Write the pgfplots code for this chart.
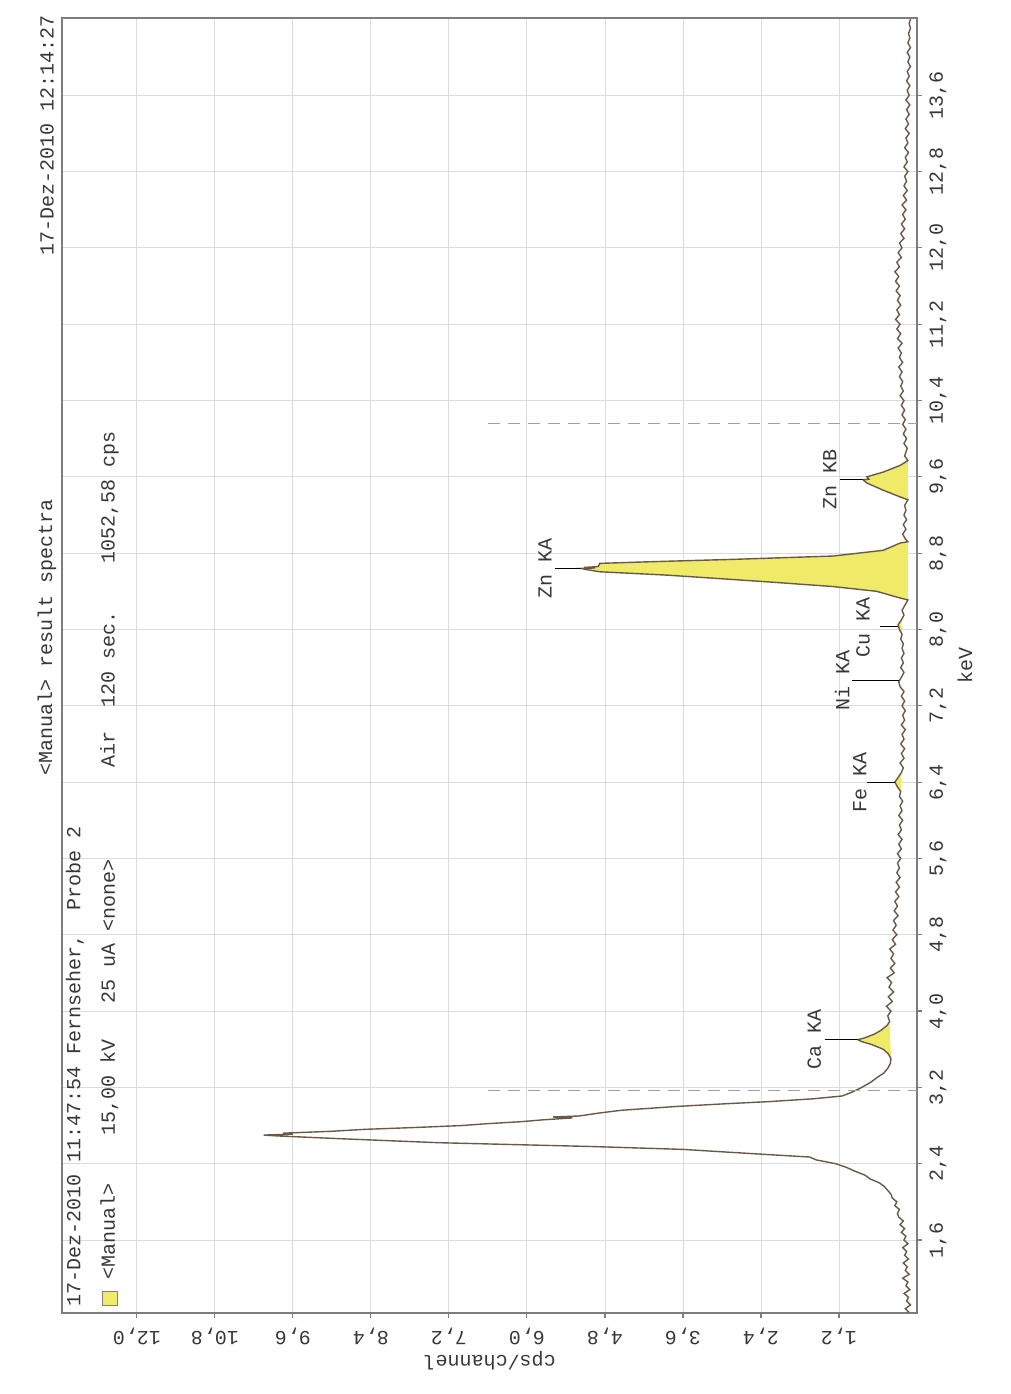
\documentclass[border=0pt]{standalone}
\usepackage{fontspec}
\setmainfont{Liberation Mono}
\usepackage{pgfplots}
\usepackage{pgfplotstable}
\pgfplotsset{compat=1.18}
\definecolor{spec}{RGB}{105,90,72}
\definecolor{peakfill}{RGB}{240,234,105}
\definecolor{framecol}{RGB}{125,125,125}
\definecolor{txt}{RGB}{55,55,55}
\setlength{\fboxsep}{0.8pt}
\setlength{\fboxrule}{0.5pt}

\pgfplotstableread{
e c
0.84 0.12
0.88 0.18
0.92 0.10
0.96 0.16
1.00 0.13
1.04 0.20
1.08 0.11
1.12 0.17
1.16 0.14
1.20 0.22
1.24 0.12
1.28 0.18
1.32 0.15
1.36 0.21
1.40 0.13
1.44 0.19
1.48 0.16
1.52 0.22
1.56 0.14
1.60 0.20
1.64 0.17
1.68 0.24
1.72 0.19
1.76 0.26
1.80 0.21
1.84 0.28
1.88 0.30
1.92 0.27
1.96 0.34
2.00 0.31
2.04 0.38
2.08 0.40
2.12 0.45
2.16 0.50
2.20 0.58
2.24 0.72
2.28 0.80
2.32 0.95
2.36 1.08
2.40 1.25
2.44 1.55
2.47 1.65
2.50 2.40
2.55 3.60
2.58 5.00
2.62 7.35
2.66 8.80
2.69 9.80
2.70 10.05
2.71 9.60
2.72 9.75
2.74 9.00
2.76 8.50
2.78 7.70
2.80 7.00
2.82 6.60
2.84 6.10
2.86 5.75
2.88 5.30
2.89 5.60
2.90 5.20
2.93 4.90
2.96 4.55
3.00 3.70
3.03 2.90
3.05 2.30
3.08 1.60
3.11 1.15
3.15 1.00
3.20 0.85
3.25 0.72
3.30 0.62
3.35 0.51
3.40 0.45
3.45 0.41
3.50 0.40
3.55 0.44
3.60 0.52
3.65 0.70
3.68 0.85
3.70 0.91
3.72 0.80
3.76 0.65
3.80 0.55
3.85 0.46
3.89 0.42
3.95 0.45
4.00 0.40
4.05 0.47
4.10 0.38
4.15 0.44
4.20 0.36
4.25 0.43
4.30 0.39
4.35 0.46
4.40 0.35
4.45 0.41
4.50 0.34
4.55 0.40
4.60 0.36
4.65 0.42
4.70 0.33
4.75 0.38
4.80 0.31
4.85 0.37
4.90 0.32
4.95 0.36
5.00 0.29
5.05 0.35
5.10 0.30
5.15 0.34
5.20 0.28
5.25 0.33
5.30 0.27
5.35 0.32
5.40 0.26
5.45 0.31
5.50 0.27
5.55 0.30
5.60 0.25
5.65 0.30
5.70 0.24
5.75 0.28
5.80 0.23
5.85 0.29
5.90 0.24
5.95 0.27
6.00 0.22
6.05 0.28
6.10 0.23
6.15 0.26
6.20 0.22
6.25 0.27
6.30 0.25
6.35 0.30
6.40 0.34
6.45 0.29
6.50 0.24
6.55 0.21
6.60 0.26
6.65 0.20
6.70 0.24
6.75 0.19
6.80 0.25
6.85 0.20
6.90 0.23
6.95 0.18
7.00 0.24
7.05 0.19
7.10 0.22
7.15 0.18
7.20 0.23
7.25 0.19
7.30 0.24
7.35 0.20
7.40 0.26
7.45 0.28
7.50 0.24
7.55 0.20
7.60 0.25
7.65 0.21
7.70 0.24
7.75 0.20
7.80 0.23
7.85 0.21
7.90 0.25
7.95 0.23
8.00 0.27
8.05 0.29
8.10 0.24
8.15 0.20
8.20 0.23
8.25 0.19
8.31 0.14
8.33 0.26
8.40 0.62
8.45 1.29
8.50 2.31
8.57 3.85
8.605 4.88
8.63 5.10
8.64 5.16
8.645 4.95
8.65 5.12
8.66 4.90
8.693 4.88
8.71 4.11
8.735 2.83
8.77 1.29
8.83 0.52
8.906 0.26
8.92 0.14
8.95 0.18
9.00 0.22
9.05 0.17
9.10 0.21
9.15 0.16
9.20 0.20
9.25 0.17
9.30 0.19
9.36 0.14
9.39 0.26
9.46 0.52
9.535 0.77
9.57 0.83
9.575 0.74
9.60 0.77
9.65 0.52
9.72 0.26
9.77 0.14
9.82 0.19
9.90 0.15
9.95 0.20
10.00 0.16
10.05 0.21
10.10 0.17
10.15 0.22
10.20 0.18
10.25 0.23
10.30 0.19
10.35 0.24
10.40 0.20
10.45 0.26
10.50 0.21
10.55 0.25
10.60 0.22
10.65 0.27
10.70 0.23
10.75 0.28
10.80 0.22
10.85 0.27
10.90 0.24
10.95 0.29
11.00 0.23
11.05 0.30
11.10 0.25
11.15 0.31
11.20 0.26
11.25 0.33
11.30 0.27
11.35 0.31
11.40 0.25
11.45 0.30
11.50 0.26
11.55 0.32
11.60 0.27
11.65 0.33
11.70 0.28
11.75 0.34
11.80 0.27
11.85 0.31
11.90 0.24
11.95 0.29
12.00 0.23
12.05 0.27
12.10 0.20
12.15 0.25
12.20 0.19
12.25 0.24
12.30 0.18
12.35 0.22
12.40 0.17
12.45 0.23
12.50 0.16
12.55 0.21
12.60 0.15
12.65 0.20
12.70 0.16
12.75 0.19
12.80 0.14
12.85 0.20
12.90 0.15
12.95 0.18
13.00 0.13
13.05 0.19
13.10 0.14
13.15 0.17
13.20 0.12
13.25 0.18
13.30 0.13
13.35 0.17
13.40 0.12
13.45 0.16
13.50 0.11
13.55 0.17
13.60 0.12
13.65 0.15
13.70 0.11
13.75 0.16
13.80 0.12
13.85 0.15
13.90 0.10
13.95 0.14
14.00 0.11
14.05 0.15
14.10 0.10
14.15 0.14
14.20 0.11
14.25 0.13
14.30 0.10
14.35 0.12
14.40 0.10
}\spec

\pgfplotstableread{
e c
3.50 0.40
3.55 0.44
3.60 0.52
3.65 0.70
3.68 0.85
3.70 0.91
3.72 0.80
3.76 0.65
3.80 0.55
3.85 0.46
3.89 0.42
}\capeak

\pgfplotstableread{
e c
6.30 0.25
6.35 0.30
6.40 0.34
6.45 0.29
6.50 0.24
}\fepeak

\pgfplotstableread{
e c
7.95 0.23
8.00 0.27
8.05 0.29
8.10 0.24
}\cupeak

\pgfplotstableread{
e c
8.31 0.14
8.33 0.26
8.40 0.62
8.45 1.29
8.50 2.31
8.57 3.85
8.605 4.88
8.63 5.10
8.64 5.16
8.645 4.95
8.65 5.12
8.66 4.90
8.693 4.88
8.71 4.11
8.735 2.83
8.77 1.29
8.83 0.52
8.906 0.26
8.92 0.14
}\znka

\pgfplotstableread{
e c
9.36 0.14
9.39 0.26
9.46 0.52
9.535 0.77
9.57 0.83
9.575 0.74
9.60 0.77
9.65 0.52
9.72 0.26
9.77 0.14
}\znkb

\begin{document}
\begin{tikzpicture}[font=\fontsize{10}{12}\selectfont, text=txt]
\path[use as bounding box] (0,0) rectangle (505.5pt,697pt);
\begin{axis}[
  scale only axis, width=427.5pt, height=647.5pt,
  at={(31pt,40.5pt)}, anchor=south west,
  x dir=reverse,
  xmin=0, xmax=13.15, ymin=0.835, ymax=14.41,
  xtick={1.2,2.4,3.6,4.8,6.0,7.2,8.4,9.6,10.8,12.0},
  ytick={1.6,2.4,3.2,4.0,4.8,5.6,6.4,7.2,8.0,8.8,9.6,10.4,11.2,12.0,12.8,13.6},
  xtick pos=left, ytick pos=right,
  yticklabel pos=right,
  tick align=outside, major tick length=2.5pt,
  grid=major,
  major grid style={gray!28, line width=0.4pt},
  axis line style={framecol, line width=0.8pt},
  tick style={framecol, line width=0.6pt},
  /pgf/number format/use comma,
  /pgf/number format/fixed,
  /pgf/number format/fixed zerofill,
  /pgf/number format/precision=1,
  /pgf/number format/assume math mode=true,
  xticklabel style={rotate=180, anchor=center, yshift=9pt},
  yticklabel style={rotate=90, anchor=center, yshift=-8pt},
  xlabel={cps/channel}, ylabel={keV},
  every axis x label/.style={at={(axis cs:6.575,0.835)}, rotate=180, anchor=center, yshift=24pt},
  every axis y label/.style={at={(axis cs:0,7.62)}, rotate=90, anchor=center, yshift=-24pt},
  clip=false,
]
% peak fills
\addplot[fill=peakfill, draw=none] table[x=c,y=e]{\capeak} -- cycle;
\addplot[fill=peakfill, draw=none] table[x=c,y=e]{\fepeak} -- cycle;
\addplot[fill=peakfill, draw=none] table[x=c,y=e]{\cupeak} -- cycle;
\addplot[fill=peakfill, draw=none] table[x=c,y=e]{\znka} -- cycle;
\addplot[fill=peakfill, draw=none] table[x=c,y=e]{\znkb} -- cycle;
% spectrum
\addplot[spec, line width=0.7pt] table[x=c,y=e]{\spec};
% dashed region markers
\addplot[gray!75, line width=0.6pt, dash pattern=on 6pt off 4pt] coordinates {(6.6,3.17) (0,3.17)};
\addplot[gray!75, line width=0.6pt, dash pattern=on 6pt off 4pt] coordinates {(6.6,10.16) (0,10.16)};
% peak markers
\addplot[black, line width=0.5pt] coordinates {(1.42,3.70) (0.91,3.70)};
\addplot[black, line width=0.5pt] coordinates {(0.77,6.40) (0.34,6.40)};
\addplot[black, line width=0.5pt] coordinates {(1.00,7.47) (0.27,7.47)};
\addplot[black, line width=0.5pt] coordinates {(0.57,8.03) (0.29,8.03)};
\addplot[black, line width=0.5pt] coordinates {(5.57,8.64) (5.16,8.64)};
\addplot[black, line width=0.5pt] coordinates {(1.18,9.57) (0.83,9.57)};
\node[rotate=90, anchor=center] at (axis cs:1.58,3.70) {Ca KA};
\node[rotate=90, anchor=center] at (axis cs:0.88,6.40) {Fe KA};
\node[rotate=90, anchor=center] at (axis cs:1.15,7.47) {Ni KA};
\node[rotate=90, anchor=center] at (axis cs:0.83,8.02) {Cu KA};
\node[rotate=90, anchor=center] at (axis cs:5.72,8.64) {Zn KA};
\node[rotate=90, anchor=center] at (axis cs:1.34,9.57) {Zn KB};
% header texts
\node[rotate=90, anchor=west, inner sep=0pt] at (axis cs:13.38,6.47) {<Manual> result spectra};
\node[rotate=90, anchor=east, inner sep=0pt] at (axis cs:13.38,14.44) {17-Dez-2010 12:14:27};
\node[rotate=90, anchor=west, inner sep=0pt] at (axis cs:12.95,0.90) {17-Dez-2010 11:47:54 Fernseher,~ Probe 2};
\node[rotate=90, anchor=west, inner sep=0pt] at (axis cs:12.42,0.90) {\fcolorbox{gray}{peakfill}{\rule{0pt}{5pt}\rule{5pt}{0pt}}~<Manual>~~~~15,00 kV~~~25 uA <none>};
\node[rotate=90, anchor=west, inner sep=0pt] at (axis cs:12.42,6.55) {Air~~120 sec.~~~~1052,58 cps};
\end{axis}
\end{tikzpicture}
\end{document}
